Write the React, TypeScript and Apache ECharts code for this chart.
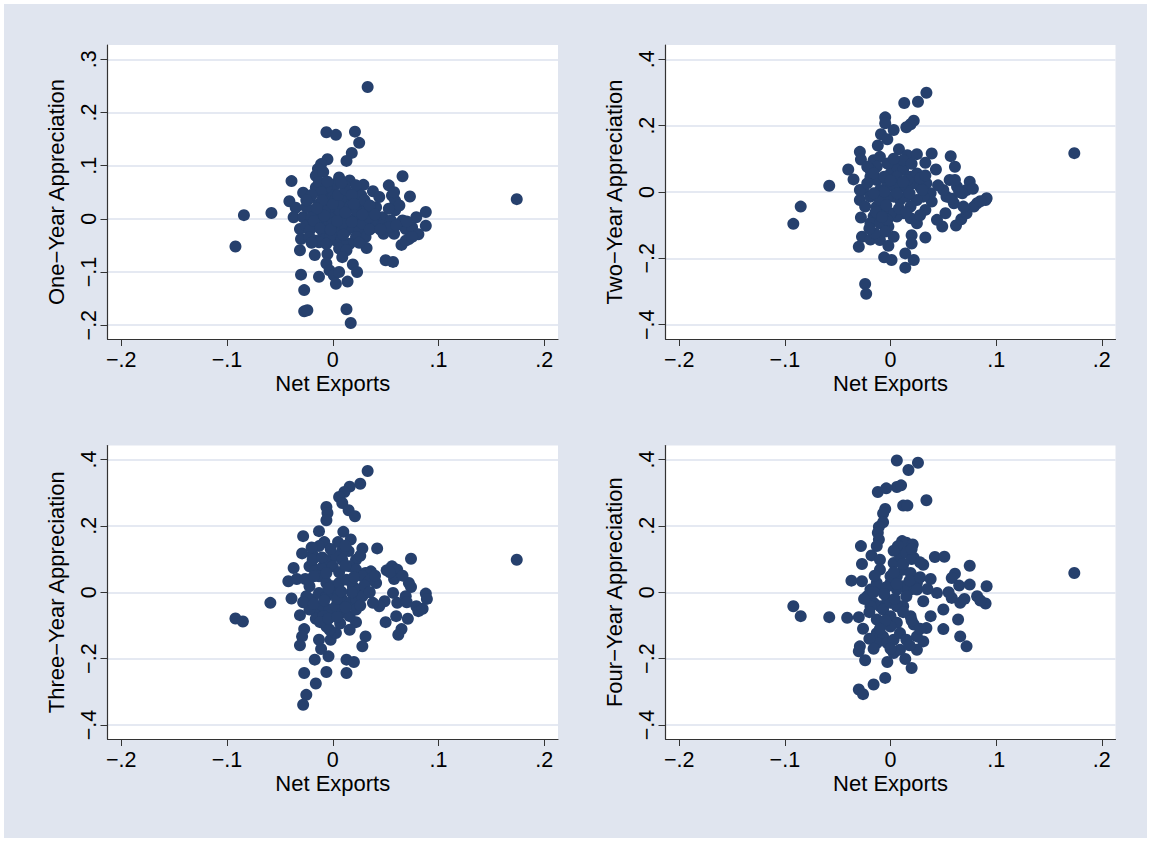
import React, { useEffect, useRef } from "react";
import * as echarts from "echarts";

// ---- data (net exports, appreciation) ----
const oneYear: number[][] = [
  [-0.006, 0.163], [0.003, 0.158], [0.021, 0.164], [0.025, 0.143], [0.018, 0.124], [0.013, 0.109], [-0.005, 0.112],
  [-0.011, 0.103], [-0.014, 0.094], [-0.016, 0.081], [-0.009, 0.088], [-0.039, 0.071], [-0.016, 0.059], [-0.013, 0.069],
  [0.006, 0.078], [0.016, 0.072], [0.011, 0.063], [0.029, 0.064], [0.022, 0.05], [0.038, 0.052], [0.053, 0.063],
  [0.056, 0.044], [0.059, 0.034], [0.066, 0.08], [0.073, 0.042], [-0.028, 0.049], [-0.022, 0.038], [-0.041, 0.033],
  [-0.035, 0.021], [-0.037, 0.003], [-0.058, 0.011], [-0.084, 0.007], [-0.092, -0.052], [-0.028, 0.003], [-0.031, -0.019],
  [-0.025, -0.013], [-0.03, -0.038], [-0.031, -0.059], [-0.017, -0.068], [-0.016, -0.041], [-0.009, -0.028], [-0.019, 0.016],
  [-0.013, 0.028], [-0.006, 0.041], [0.0, 0.05], [0.003, 0.038], [0.008, 0.025], [0.013, 0.041], [0.019, 0.034],
  [0.025, 0.022], [0.031, 0.016], [0.041, 0.022], [0.047, 0.003], [0.055, -0.003], [0.059, 0.016], [0.063, -0.009],
  [0.069, -0.019], [0.075, -0.016], [0.079, 0.003], [0.088, 0.013], [0.088, -0.013], [0.081, -0.029], [0.072, -0.038],
  [0.065, -0.049], [0.069, -0.041], [0.058, -0.028], [0.048, -0.028], [0.038, -0.016], [0.031, -0.003], [0.022, 0.003],
  [0.016, -0.003], [0.009, 0.003], [0.003, 0.009], [-0.003, 0.003], [-0.009, -0.003], [-0.016, -0.009], [-0.022, -0.022],
  [-0.006, -0.016], [0.0, -0.009], [0.006, -0.016], [0.013, -0.022], [0.019, -0.016], [0.025, -0.022], [0.031, -0.034],
  [0.022, -0.034], [0.016, -0.047], [0.009, -0.044], [0.003, -0.041], [0.006, -0.056], [0.013, -0.059], [0.009, -0.072],
  [0.032, -0.055], [-0.005, -0.066], [-0.006, -0.084], [-0.003, -0.097], [0.001, -0.106], [0.006, -0.1], [0.019, -0.086],
  [0.023, -0.1], [0.014, -0.118], [0.003, -0.122], [-0.013, -0.109], [-0.03, -0.105], [-0.027, -0.134], [-0.027, -0.174],
  [-0.024, -0.172], [0.013, -0.17], [0.017, -0.196], [0.05, -0.078], [0.057, -0.081], [0.041, -0.003], [0.044, 0.041],
  [0.027, 0.044], [-0.003, 0.022], [-0.008, 0.016], [-0.013, 0.009], [-0.02, 0.003], [-0.025, 0.022], [0.003, 0.066],
  [-0.006, 0.059], [0.047, -0.013], [0.053, -0.016], [0.066, -0.003], [0.075, -0.034], [-0.011, 0.05], [0.022, 0.063],
  [0.0, 0.028], [0.016, 0.022], [0.022, 0.016], [0.028, -0.009], [0.034, 0.003], [0.009, -0.009], [0.005, -0.028],
  [-0.002, -0.031], [-0.013, -0.044], [-0.006, -0.047], [-0.022, -0.034], [0.058, 0.05], [0.063, 0.025], [0.053, 0.019],
  [-0.02, 0.045], [-0.01, 0.035], [0.005, 0.045], [0.012, 0.055], [0.018, 0.045], [0.03, 0.035], [0.035, 0.025],
  [-0.018, -0.004], [-0.012, -0.018], [-0.002, -0.02], [0.01, -0.03], [0.018, -0.006], [0.025, -0.045], [0.004, -0.004],
  [-0.008, 0.006], [0.012, 0.012], [0.028, 0.008], [0.04, 0.008], [-0.02, -0.045], [-0.005, 0.07], [0.008, 0.068],
  [0.02, 0.028], [-0.015, 0.02], [0.035, -0.02], [0.045, -0.02], [0.06, -0.012], [0.07, -0.005], [-0.025, 0.035],
  [0.033, 0.248], [0.174, 0.037],
];

const twoYear: number[][] = [
  [0.034, 0.299], [0.026, 0.272], [0.013, 0.268], [0.022, 0.215], [0.019, 0.204], [0.015, 0.195], [-0.005, 0.225],
  [-0.005, 0.207], [0.003, 0.187], [-0.009, 0.174], [-0.003, 0.159], [-0.012, 0.14], [-0.029, 0.121], [-0.028, 0.098],
  [0.008, 0.129], [0.016, 0.111], [0.025, 0.114], [0.039, 0.116], [0.057, 0.108], [0.061, 0.076], [0.033, 0.088],
  [0.043, 0.068], [-0.04, 0.068], [-0.035, 0.038], [-0.058, 0.019], [-0.085, -0.044], [-0.092, -0.096], [-0.028, -0.077],
  [-0.027, -0.135], [-0.03, -0.165], [-0.019, -0.143], [-0.01, -0.145], [-0.006, -0.197], [0.001, -0.205], [0.014, -0.185],
  [0.022, -0.205], [0.014, -0.228], [-0.002, -0.162], [0.003, -0.135], [-0.002, -0.104], [0.02, -0.13], [0.033, -0.137],
  [0.02, -0.155], [0.049, -0.104], [0.062, -0.101], [0.067, -0.082], [0.072, -0.064], [0.052, -0.064], [0.082, -0.034],
  [0.091, -0.019], [0.09, -0.024], [0.056, 0.036], [0.063, 0.016], [0.075, 0.031], [0.072, 0.006], [0.053, -0.014],
  [0.06, -0.034], [0.039, -0.029], [0.033, -0.054], [-0.024, -0.277], [-0.023, -0.307],
  [-0.016, 0.096], [-0.01, 0.106], [-0.019, 0.046], [-0.013, 0.036], [-0.026, 0.006], [-0.029, -0.024], [-0.019, -0.014],
  [-0.01, 0.006], [-0.003, 0.026], [0.0, 0.056], [0.006, 0.076], [0.012, 0.066], [0.019, 0.046], [0.025, 0.056],
  [0.022, 0.026], [0.028, 0.016], [0.034, 0.026], [0.038, -0.004], [0.031, -0.014], [0.025, -0.024], [0.019, -0.044],
  [0.012, -0.064], [0.006, -0.074], [0.0, -0.064], [-0.007, -0.054], [-0.013, -0.044], [-0.016, -0.074], [-0.019, -0.094],
  [-0.01, -0.094], [-0.003, -0.084], [0.009, -0.024], [0.015, -0.014], [0.003, -0.014], [-0.003, -0.014], [-0.01, -0.024],
  [0.009, 0.016], [0.015, 0.016], [0.003, 0.016], [0.012, 0.096], [-0.003, 0.086], [-0.013, 0.076], [-0.019, 0.066],
  [0.028, 0.041], [0.019, -0.079], [0.025, -0.094], [-0.005, -0.119], [-0.015, -0.124], [0.05, 0.006], [0.068, -0.004],
  [0.061, 0.036], [0.079, -0.044], [0.069, -0.044], [0.044, -0.084], [-0.029, 0.006],
  [-0.022, 0.076], [-0.016, 0.056], [-0.006, 0.046], [0.006, 0.046], [0.016, 0.036], [0.03, 0.006], [0.018, -0.004],
  [0.006, -0.004], [-0.006, 0.001], [-0.016, -0.004], [-0.024, -0.044], [-0.014, -0.06], [-0.004, -0.04], [0.008, -0.05],
  [0.015, -0.06], [0.028, -0.07], [-0.02, -0.11], [-0.008, -0.075], [0.003, 0.1], [0.02, 0.085], [0.033, 0.05],
  [0.045, 0.02], [-0.022, 0.026], [0.012, 0.03], [0.0, 0.035], [0.058, -0.02], [0.065, 0.0], [0.078, 0.01], [0.085, -0.028],
  [0.174, 0.117],
];

const threeYear: number[][] = [
  [0.033, 0.365], [0.026, 0.327], [0.016, 0.318], [0.011, 0.302], [0.006, 0.287], [0.009, 0.269], [0.015, 0.247],
  [0.021, 0.229], [-0.006, 0.257], [-0.005, 0.239], [-0.006, 0.217], [-0.013, 0.184], [-0.028, 0.169], [0.01, 0.182],
  [0.017, 0.159], [-0.008, 0.151], [-0.013, 0.139], [0.005, 0.151], [0.028, 0.132], [0.042, 0.132], [0.074, 0.101],
  [-0.029, 0.117], [-0.019, 0.114], [0.022, 0.098], [0.015, 0.124], [0.009, 0.124], [-0.037, 0.073], [-0.042, 0.033],
  [-0.034, 0.04], [-0.059, -0.032], [-0.092, -0.079], [-0.085, -0.088], [-0.039, -0.019], [-0.031, -0.069], [-0.027, -0.111],
  [-0.029, -0.133], [-0.031, -0.16], [-0.017, -0.203], [-0.027, -0.243], [-0.016, -0.275], [-0.025, -0.309], [-0.028, -0.339],
  [-0.006, -0.24], [0.013, -0.243], [0.013, -0.203], [0.02, -0.21], [-0.004, -0.193], [-0.011, -0.171], [-0.013, -0.143],
  [-0.002, -0.143], [0.003, -0.123], [0.007, -0.094], [0.022, -0.09], [0.031, -0.133], [0.028, -0.163], [0.016, -0.113],
  [-0.003, -0.113], [-0.006, -0.103], [0.051, 0.066], [0.056, 0.078], [0.061, 0.068], [0.058, 0.04], [0.049, -0.027],
  [0.041, 0.028], [0.036, 0.063], [0.031, 0.058], [0.072, 0.028], [0.074, 0.016], [0.088, -0.004], [0.089, -0.02],
  [0.079, -0.042], [0.081, -0.057], [0.071, -0.08], [0.065, -0.111], [0.062, -0.128], [0.05, -0.09], [0.06, -0.072],
  [0.061, -0.032], [0.057, -0.002], [0.069, -0.012], [0.044, -0.042], [0.038, -0.032],
  [-0.022, 0.078], [-0.016, 0.068], [-0.009, 0.078], [-0.003, 0.098], [0.003, 0.109], [0.009, 0.098], [0.016, 0.078],
  [0.022, 0.068], [0.028, 0.048], [0.035, 0.038], [-0.013, 0.048], [-0.006, 0.028], [0.0, 0.018], [0.006, 0.028],
  [0.013, 0.038], [0.019, 0.018], [0.025, 0.008], [0.031, -0.002], [-0.022, 0.018], [-0.025, -0.012], [-0.019, -0.022],
  [-0.013, -0.002], [-0.006, -0.012], [0.0, -0.002], [0.009, -0.022], [0.016, -0.032], [0.022, -0.022], [0.028, -0.012],
  [-0.016, -0.052], [-0.009, -0.042], [-0.003, -0.052], [0.003, -0.042], [-0.022, -0.052], [-0.016, -0.08], [-0.009, -0.072],
  [0.009, -0.062], [0.016, -0.072], [0.022, -0.052], [0.0, 0.078], [-0.006, 0.058], [-0.019, 0.098],
  [-0.026, 0.04], [-0.018, 0.048], [-0.01, 0.105], [0.006, 0.06], [0.012, 0.08], [0.02, 0.045], [0.03, 0.02],
  [0.035, 0.0], [-0.028, -0.03], [-0.018, -0.035], [-0.008, -0.025], [0.004, -0.02], [0.012, -0.045], [0.026, -0.04],
  [-0.012, -0.09], [-0.004, -0.08], [0.004, -0.075], [-0.02, 0.135], [-0.002, 0.13], [0.012, 0.14], [0.026, 0.11],
  [0.018, 0.0], [0.008, 0.002], [-0.004, 0.012], [0.04, 0.05], [0.066, 0.05], [0.054, 0.06], [0.07, -0.03], [0.085, -0.05],
  [0.174, 0.098],
];

const fourYear: number[][] = [
  [0.006, 0.397], [0.026, 0.39], [0.017, 0.368], [0.006, 0.317], [0.01, 0.322], [-0.012, 0.302], [-0.004, 0.313],
  [0.034, 0.277], [0.012, 0.261], [0.016, 0.261], [-0.005, 0.251], [-0.007, 0.237], [-0.007, 0.211], [-0.011, 0.197],
  [-0.012, 0.179], [-0.011, 0.159], [-0.028, 0.139], [-0.013, 0.139], [-0.018, 0.111], [-0.01, 0.098], [-0.027, 0.085],
  [-0.01, 0.068], [0.011, 0.154], [0.015, 0.149], [0.021, 0.144], [0.007, 0.139], [0.022, 0.104], [0.031, 0.083],
  [0.042, 0.106], [0.051, 0.107], [0.075, 0.08], [-0.037, 0.035], [-0.027, 0.033], [0.061, 0.056], [0.058, 0.043],
  [0.038, 0.04], [0.044, -0.002], [0.031, -0.027], [0.05, -0.052], [0.058, -0.017], [0.066, -0.032], [0.075, 0.023],
  [0.082, -0.012], [0.091, 0.018], [0.09, -0.034], [-0.092, -0.042], [-0.085, -0.072], [-0.058, -0.075], [-0.041, -0.077],
  [-0.03, -0.075], [-0.026, -0.11], [-0.013, -0.123], [-0.029, -0.163], [-0.03, -0.178], [-0.024, -0.205], [-0.003, -0.21],
  [0.003, -0.183], [0.014, -0.201], [0.02, -0.228], [-0.005, -0.258], [-0.016, -0.278], [-0.03, -0.293], [-0.026, -0.307],
  [0.034, -0.108], [0.05, -0.111], [0.064, -0.082], [0.066, -0.133], [0.072, -0.163], [0.022, -0.097], [0.031, -0.148],
  [0.025, -0.173], [0.038, -0.072], [0.012, -0.042], [0.019, -0.072],
  [-0.019, 0.008], [-0.022, -0.012], [-0.016, -0.032], [-0.01, -0.042], [-0.003, -0.022], [-0.007, 0.008], [-0.013, 0.028],
  [0.0, 0.028], [0.006, 0.048], [0.012, 0.068], [0.019, 0.058], [0.025, 0.028], [0.019, 0.008], [0.012, 0.018],
  [0.006, 0.008], [0.0, 0.048], [-0.007, -0.052], [0.0, -0.072], [0.006, -0.092], [0.0, -0.103], [-0.007, -0.133],
  [-0.013, -0.153], [-0.003, -0.153], [0.003, -0.143], [0.009, -0.123], [0.015, -0.143], [0.025, -0.133], [0.009, -0.173],
  [-0.019, -0.042], [-0.013, -0.082], [0.003, 0.088], [0.009, 0.109], [0.015, 0.119], [0.0, -0.032], [0.009, -0.042],
  [0.015, -0.012], [0.025, 0.008], [0.006, -0.042],
  [-0.025, -0.02], [-0.02, -0.06], [-0.016, 0.0], [-0.004, 0.015], [0.003, 0.06], [0.012, 0.085], [0.02, 0.1],
  [0.028, 0.09], [0.018, 0.035], [0.028, 0.045], [0.006, 0.025], [-0.006, -0.005], [0.004, -0.02], [0.012, -0.06],
  [0.02, -0.085], [0.028, -0.11], [-0.005, -0.085], [-0.01, -0.11], [-0.02, -0.14], [-0.016, -0.17], [0.0, -0.17],
  [0.018, -0.16], [0.003, 0.125], [0.02, 0.13], [-0.015, 0.05], [0.035, 0.01], [0.055, 0.0], [0.065, 0.02],
  [0.07, -0.02], [0.085, -0.025], [0.174, 0.058],
];

const panelData = [oneYear, twoYear, threeYear, fourYear];
const yTitles = ["One\u2212Year Appreciation", "Two\u2212Year Appreciation", "Three\u2212Year Appreciation", "Four\u2212Year Appreciation"];
const xTitle = "Net Exports";
const xTicks = [-0.2, -0.1, 0, 0.1, 0.2];
const yTicksOne = [-0.2, -0.1, 0, 0.1, 0.2, 0.3];
const yTicksOther = [-0.4, -0.2, 0, 0.2, 0.4];
const yTickSets = [yTicksOne, yTicksOther, yTicksOther, yTicksOther];
const yRanges = [[-0.226, 0.327], [-0.443, 0.443], [-0.442, 0.442], [-0.442, 0.442]];
const xRange = [-0.213, 0.213];

// layout (px)
const grids = [
  { left: 107.5, top: 45, width: 450.5, height: 294 },
  { left: 665.5, top: 45, width: 450, height: 294 },
  { left: 107.5, top: 445.5, width: 450.5, height: 293.5 },
  { left: 665.5, top: 445.5, width: 450, height: 293.5 },
];

const FONT = "Liberation Sans, Arial, Helvetica, sans-serif";
const MARK = "#26406d";
const AXIS = "#333333";
const GRIDLINE = "#dde2ee";
const BG = "#e0e5ef";

const fmt = (v: number) => {
  const r = Math.round(v * 10) / 10;
  if (r === 0) return "0";
  const s = Math.abs(r).toString().replace(/^0/, "");
  return (r < 0 ? "\u2212" : "") + s;
};

export default function App() {
  const ref = useRef<HTMLDivElement>(null);
  useEffect(() => {
    if (!ref.current) return;
    const chart = echarts.init(ref.current, undefined, { renderer: "svg" });
    const option: any = {
      animation: false,
      backgroundColor: "transparent",
      textStyle: { fontFamily: FONT },
      grid: grids.map((g) => ({
        ...g,
        show: true,
        backgroundColor: "#ffffff",
        borderWidth: 0,
        containLabel: false,
        outerBoundsMode: "none",
      })),
      xAxis: grids.map((_, i) => ({
        gridIndex: i,
        type: "value",
        min: xRange[0],
        max: xRange[1],
        name: xTitle,
        nameLocation: "middle",
        nameGap: 33,
        nameTextStyle: { fontSize: 22, color: "#000", fontFamily: FONT },
        axisLine: { show: true, onZero: false, lineStyle: { color: AXIS, width: 1.2 } },
        axisTick: { show: true, length: 7, customValues: xTicks, lineStyle: { color: AXIS, width: 1 } },
        axisLabel: { customValues: xTicks, formatter: fmt, fontSize: 21.5, color: "#000", margin: 10, fontFamily: FONT, hideOverlap: false },
        splitLine: { show: false },
      })),
      yAxis: grids.map((_, i) => ({
        gridIndex: i,
        type: "value",
        min: yRanges[i][0],
        max: yRanges[i][1],
        name: yTitles[i],
        nameLocation: "middle",
        nameGap: 40,
        nameRotate: 90,
        nameTextStyle: { fontSize: 22, color: "#000", fontFamily: FONT },
        axisLine: { show: true, onZero: false, lineStyle: { color: AXIS, width: 1.2 } },
        axisTick: { show: true, length: 7, customValues: yTickSets[i], lineStyle: { color: AXIS, width: 1 } },
        axisLabel: { customValues: yTickSets[i], formatter: fmt, rotate: 90, fontSize: 21.5, color: "#000", margin: 8, fontFamily: FONT, hideOverlap: false },
        splitLine: { show: true, lineStyle: { color: GRIDLINE, width: 1.6 } },
      })),
      series: panelData.map((d, i) => ({
        type: "scatter",
        xAxisIndex: i,
        yAxisIndex: i,
        data: d,
        symbol: "circle",
        symbolSize: 12,
        itemStyle: { color: MARK, opacity: 1 },
        emphasis: { disabled: true },
      })),
    };
    chart.setOption(option);
    return () => chart.dispose();
  }, []);

  return (
    <div style={{ position: "absolute", left: 0, top: 0, width: 1151, height: 842, background: "#ffffff" }}>
      <div style={{ position: "absolute", left: 4, top: 4, width: 1143, height: 834, background: BG }} />
      <div ref={ref} style={{ position: "absolute", left: 0, top: 0, width: 1151, height: 842 }} />
    </div>
  );
}
